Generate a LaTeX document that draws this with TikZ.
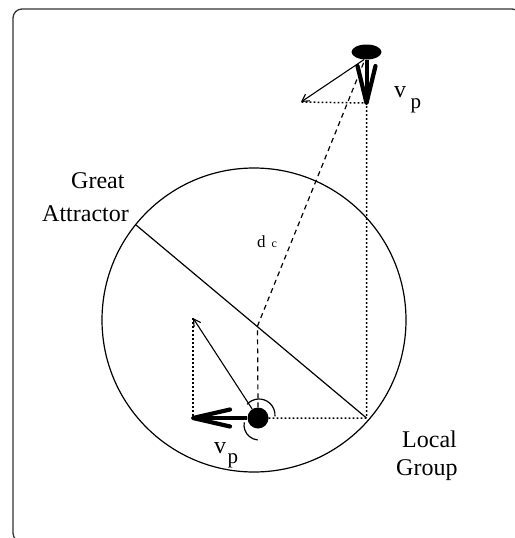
\documentclass[tikz,border=0pt]{standalone}
\usepackage{fontspec}
\setmainfont{Liberation Serif}
\usetikzlibrary{shapes.geometric,arrows.meta}
\tikzset{
  thinline/.style={line width=1.2pt},
  dashline/.style={line width=1.2pt, dash pattern=on 5pt off 4pt},
  dotline/.style={line width=1.5pt, dash pattern=on 1.6pt off 2.4pt},
  thinarrow/.style={line width=1.1pt, -{Straight Barb[length=7pt,width=8pt]}},
  shaft/.style={line width=4pt},
  barb/.style={line width=4.2pt, line cap=round, line join=round},
  lbl/.style={inner sep=0pt, anchor=base west, font=\fontsize{24}{24}\selectfont},
}
\begin{document}
\begin{tikzpicture}[x=1pt,y=-1pt]
\useasboundingbox (0,0) rectangle (514,538);
% frame
\draw[line width=1.3pt, draw=black!80, rounded corners=9pt] (13,9) rectangle (521,542);
% circle
\draw[thinline] (254,320) circle (152);
% points
\coordinate (GA) at (136,225);
\coordinate (LG) at (366.5,418);
\coordinate (I) at (257.5,326);
\coordinate (tipA) at (193,318);
\coordinate (tipB) at (193,418);
\coordinate (tlc) at (301,102);
\coordinate (tipT) at (366.5,103);
\node[circle, fill, inner sep=0pt, minimum size=21pt] (g) at (258,418) {};
\node[ellipse, fill, inner sep=0pt, minimum width=30pt, minimum height=15pt] (e) at (366.5,52) {};
% great attractor line
\draw[thinline] (GA) -- (LG);
% dashed distance line
\draw[dashline] (g.north) -- (I) -- (e.-102);
% dotted construction lines
\draw[dotline] (g.east) -- (LG) -- (tipT) -- (tlc);
\draw[dotline] (tipA) -- (tipB);
% thin arrows
\draw[thinarrow] (g) -- (tipA);
\draw[thinarrow] (e.-108) -- (tlc);
% thick arrows
\draw[shaft] (g.west) -- (tipB);
\draw[barb] ([shift={(37,-8.5)}]tipB) -- (tipB) -- ([shift={(37,8.5)}]tipB);
\draw[shaft] (e.south) -- (tipT);
\draw[barb] ([shift={(-9,-37)}]tipT) -- (tipT) -- ([shift={(9,-37)}]tipT);
% angle arcs
\draw[thinline] (259,415) ++(-138:16) arc[start angle=-138, end angle=5, radius=16];
\draw[thinline] (259,425) ++(190:15) arc[start angle=190, end angle=95, radius=15];
% labels
\node[lbl] (great) at (71,188) {Great};
\node[lbl] (attr) at (42,221) {Attractor};
\node[lbl] (local) at (402,447) {Local};
\node[lbl] (group) at (396,475) {Group};
\node[lbl] (vtop) at (394,97) {v\hspace{4.5pt}\raisebox{-11pt}{\fontsize{21}{21}\selectfont p}};
\node[lbl] (vbot) at (214,453) {v\hspace{1.5pt}\raisebox{-10pt}{\fontsize{21}{21}\selectfont p}};
\node[lbl, font=\fontsize{17}{17}\selectfont] (dc) at (257,247) {d\hspace{6pt}{\fontsize{12}{12}\selectfont c}};
\end{tikzpicture}
\end{document}
